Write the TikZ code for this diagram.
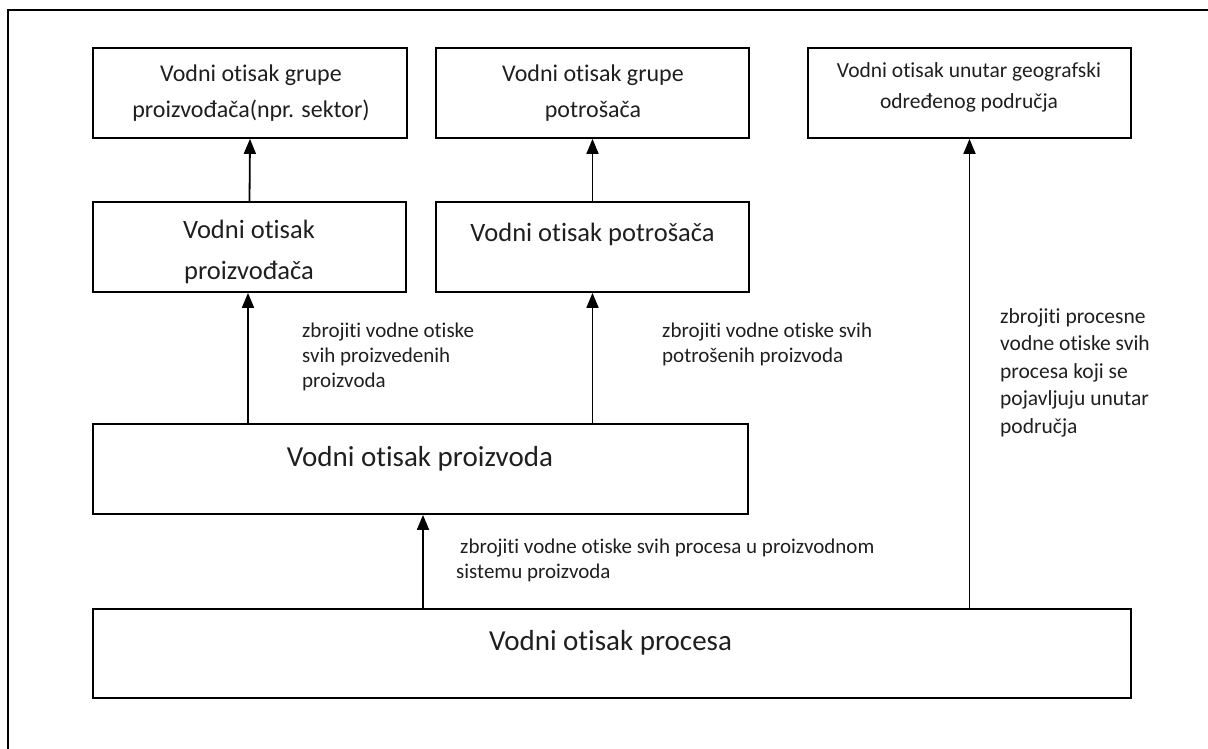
\documentclass[tikz,border=0pt]{standalone}
\usepackage{fontspec}
\setmainfont{Carlito}[Ligatures={NoCommon}]
\usetikzlibrary{arrows.meta}
\begin{document}
\begin{tikzpicture}[x=1pt,y=-1pt,
  box/.style={draw=black, line width=1.8pt, inner sep=0pt},
  arr/.style={draw=black, line width=1.8pt, -{Triangle[length=15pt,width=12pt]}},
  frame/.style={draw=black, line width=1.8pt},
  ttext/.style={text=black!88, inner sep=0pt, align=center},
  ta/.style={ttext, font=\fontsize{24}{36}\selectfont},
  tb/.style={ttext, font=\fontsize{21.5}{31.5}\selectfont},
  tc/.style={ttext, font=\fontsize{26.5}{40.5}\selectfont},
  td/.style={ttext, font=\fontsize{29}{35}\selectfont},
  lbl/.style={text=black!88, inner sep=0pt, align=left, anchor=base west},
  la/.style={lbl, font=\fontsize{21}{25}\selectfont},
  lb/.style={lbl, font=\fontsize{21.5}{27.5}\selectfont}
]
\useasboundingbox (0,0) rectangle (1208,749);
\draw[frame] (8,749) -- (8,10) -- (1208,10);

% boxes
\node[box, minimum width=314pt, minimum height=90pt] (b1) at (250,93) {};
\node[box, minimum width=313pt, minimum height=90pt] (b2) at (592.5,93) {};
\node[box, minimum width=323pt, minimum height=90pt] (b3) at (969.5,93) {};
\node[box, minimum width=313pt, minimum height=90pt] (b4) at (249.5,247) {};
\node[box, minimum width=313pt, minimum height=90pt] (b5) at (592.5,247) {};
\node[box, minimum width=655pt, minimum height=90pt] (b6) at (420.5,469) {};
\node[box, minimum width=1038pt, minimum height=89pt] (b7) at (612,653.5) {};

% box texts (base anchor = baseline of last line)
\node[ta, anchor=base] (t1) at (251,118) {Vodni otisak grupe\\proizvođača(npr. sektor)};
\node[ta, anchor=base] (t2) at (593,118) {Vodni otisak grupe\\potrošača};
\node[tb, anchor=base] (t3) at (969,109) {Vodni otisak unutar geografski\\određenog područja};
\node[tc, anchor=base] (t4) at (249,279) {Vodni otisak\\proizvođača};
\node[tc, anchor=base] (t5) at (592.5,241.5) {Vodni otisak potrošača};
\node[td, anchor=base] (t6) at (420,466) {Vodni otisak proizvoda};
\node[td, anchor=base] (t7) at (610.5,650) {Vodni otisak procesa};

% connectors
\draw[arr] (b4.north) -- (b1.south);
\draw[arr] (b5.north) -- (b2.south);
\draw[arr] ([xshift=-1.5pt]b4.south |- b6.north) -- ([xshift=-1.5pt]b4.south);
\draw[arr] (b5.south |- b6.north) -- (b5.south);
\draw[arr] ([xshift=2.5pt]b6.south |- b7.north) -- ([xshift=2.5pt]b6.south);
\draw[arr] (b3.south |- b7.north) -- (b3.south);

% labels (base anchor = baseline of last line)
\node[la] (l1) at (302,387) {zbrojiti vodne otiske\\svih proizvedenih\\proizvoda};
\node[la] (l2) at (662,362.5) {zbrojiti vodne otiske svih\\potrošenih proizvoda};
\node[lb] (l3) at (1000,433) {zbrojiti procesne\\vodne otiske svih\\procesa koji se\\pojavljuju unutar\\područja};
\node[la] (l4) at (456,578) {\hspace{4pt}zbrojiti vodne otiske svih procesa u proizvodnom\\sistemu proizvoda};
\end{tikzpicture}
\end{document}
